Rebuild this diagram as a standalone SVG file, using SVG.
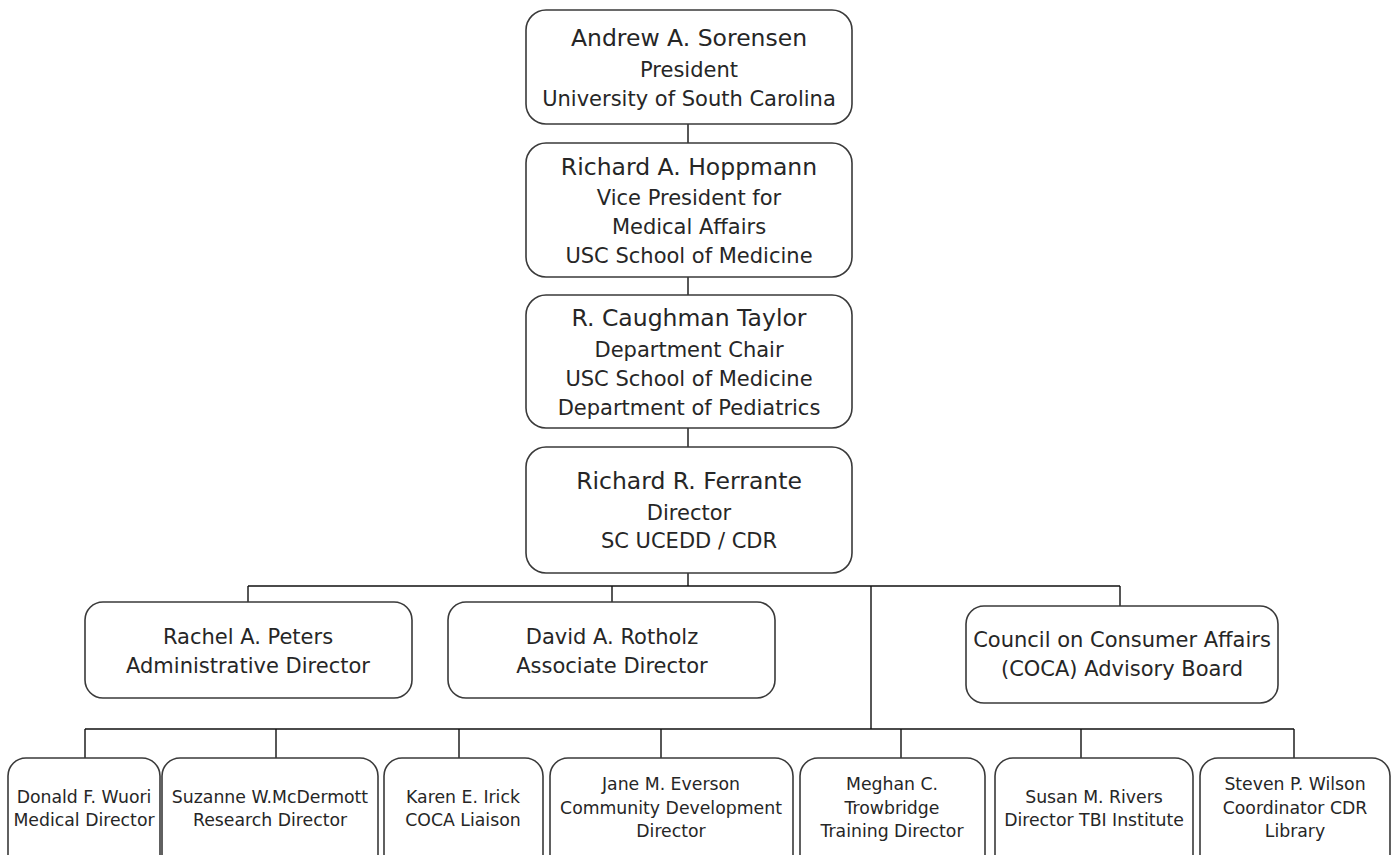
<svg xmlns="http://www.w3.org/2000/svg" width="1393" height="855" viewBox="0 0 1393 855">
<style>
.box{fill:#fff;stroke:#3a3a3a;stroke-width:1.6}
.con{stroke:#111;stroke-width:1.4;fill:none}
text{font-family:"DejaVu Sans","Liberation Sans",sans-serif;fill:#262626;text-anchor:middle}
.nm{font-size:23.5px}
.ln{font-size:21px}
.sm{font-size:17.3px}
</style>
<rect width="1393" height="855" fill="#fff"/>
<g id="connectors" class="con">
<path d="M688 124V143M688 277V295M688 428V447M688 573V586"/>
<path d="M248 586H1120M248 586V602M612 586V602M1120 586V606M871 586V729"/>
<path d="M85 729H1294M85 729V758M276 729V758M459 729V758M661 729V758M901 729V758M1081 729V758M1294 729V758"/>
</g>
<g id="sorensen"><rect class="box" x="526" y="10" width="326" height="114" rx="20"/>
<text class="nm" x="689" y="46">Andrew A. Sorensen</text>
<text class="ln" x="689" y="77">President</text>
<text class="ln" x="689" y="106">University of South Carolina</text></g>
<g id="hoppmann"><rect class="box" x="526" y="143" width="326" height="134" rx="20"/>
<text class="nm" x="689" y="175">Richard A. Hoppmann</text>
<text class="ln" x="689" y="205">Vice President for</text>
<text class="ln" x="689" y="234">Medical Affairs</text>
<text class="ln" x="689" y="263">USC School of Medicine</text></g>
<g id="taylor"><rect class="box" x="526" y="295" width="326" height="133" rx="20"/>
<text class="nm" x="689" y="326">R. Caughman Taylor</text>
<text class="ln" x="689" y="357">Department Chair</text>
<text class="ln" x="689" y="386">USC School of Medicine</text>
<text class="ln" x="689" y="415">Department of Pediatrics</text></g>
<g id="ferrante"><rect class="box" x="526" y="447" width="326" height="126" rx="20"/>
<text class="nm" x="689" y="489">Richard R. Ferrante</text>
<text class="ln" x="689" y="520">Director</text>
<text class="ln" x="689" y="548">SC UCEDD / CDR</text></g>
<g id="peters"><rect class="box" x="85" y="602" width="327" height="96" rx="18"/>
<text class="ln" x="248" y="644">Rachel A. Peters</text>
<text class="ln" x="248" y="673">Administrative Director</text></g>
<g id="rotholz"><rect class="box" x="448" y="602" width="327" height="96" rx="18"/>
<text class="ln" x="612" y="644">David A. Rotholz</text>
<text class="ln" x="612" y="673">Associate Director</text></g>
<g id="coca"><rect class="box" x="966" y="606" width="312" height="97" rx="18"/>
<text class="ln" x="1122" y="647">Council on Consumer Affairs</text>
<text class="ln" x="1122" y="676">(COCA) Advisory Board</text></g>
<g id="wuori"><rect class="box" x="8" y="758" width="152" height="120" rx="18"/>
<text class="sm" x="84" y="803">Donald F. Wuori</text>
<text class="sm" x="84" y="826">Medical Director</text></g>
<g id="mcdermott"><rect class="box" x="162" y="758" width="216" height="120" rx="18"/>
<text class="sm" x="270" y="803">Suzanne W.McDermott</text>
<text class="sm" x="270" y="826">Research Director</text></g>
<g id="irick"><rect class="box" x="384" y="758" width="159" height="120" rx="18"/>
<text class="sm" x="463" y="803">Karen E. Irick</text>
<text class="sm" x="463" y="826">COCA Liaison</text></g>
<g id="everson"><rect class="box" x="550" y="758" width="243" height="120" rx="18"/>
<text class="sm" x="671" y="790">Jane M. Everson</text>
<text class="sm" x="671" y="814">Community Development</text>
<text class="sm" x="671" y="837">Director</text></g>
<g id="trowbridge"><rect class="box" x="800" y="758" width="185" height="120" rx="18"/>
<text class="sm" x="892" y="790">Meghan C.</text>
<text class="sm" x="892" y="814">Trowbridge</text>
<text class="sm" x="892" y="837">Training Director</text></g>
<g id="rivers"><rect class="box" x="995" y="758" width="198" height="120" rx="18"/>
<text class="sm" x="1094" y="803">Susan M. Rivers</text>
<text class="sm" x="1094" y="826">Director TBI Institute</text></g>
<g id="wilson"><rect class="box" x="1200" y="758" width="190" height="120" rx="18"/>
<text class="sm" x="1295" y="790">Steven P. Wilson</text>
<text class="sm" x="1295" y="814">Coordinator CDR</text>
<text class="sm" x="1295" y="837">Library</text></g>
</svg>
